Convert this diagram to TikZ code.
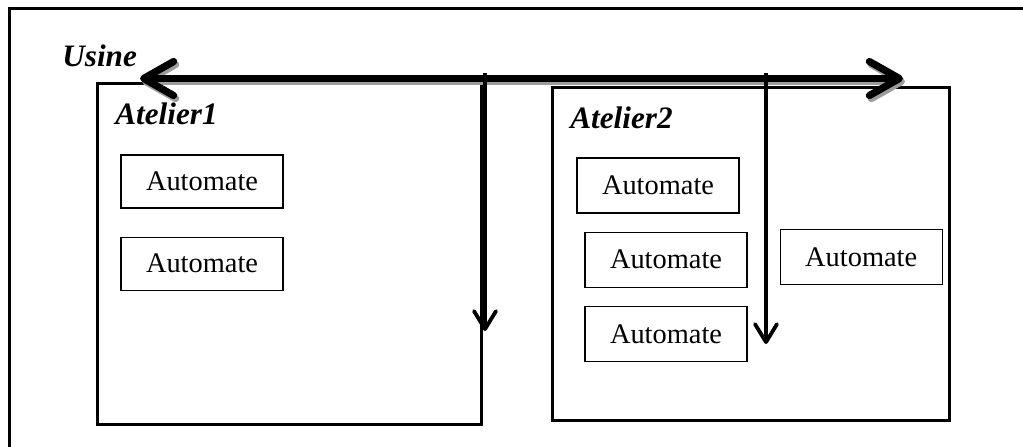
\documentclass[tikz,border=0pt]{standalone}
\usepackage{fontspec}
\setmainfont{Liberation Serif}
\usetikzlibrary{arrows.meta,positioning}
\definecolor{usink}{HTML}{000000}
\definecolor{usshade}{HTML}{9C9C9C}
\tikzset{
  usframe/.style={draw=usink, line width=1.5pt},
  usatelier/.style={draw=usink, line width=1.5pt, fill=white, inner sep=0pt},
  usauto/.style={draw=usink, line width=0.6pt, fill=white, inner sep=0pt,
    minimum width=81pt, minimum height=27.5pt, font=\fontsize{14.2}{17}\selectfont},
  uslabel/.style={inner sep=0pt, anchor=base west,
    font=\fontsize{15.6}{19}\selectfont\bfseries\itshape},
  usbus/.style={{Straight Barb[length=15pt,width=17pt,round]}-{Straight Barb[length=15pt,width=17pt,round]},
    line width=3.6pt, line cap=round, draw=usink},
  usbusshade/.style={usbus, draw=usshade},
  usdrop/.style={-{Straight Barb[length=9pt,width=11pt,round]}, line width=1.9pt, draw=usink}
}
\begin{document}
\begin{tikzpicture}[x=0.5pt, y=-0.5pt, node distance=9pt]
\useasboundingbox (0,0) rectangle (1023,446);
% plant frame, runs off the page right and bottom
\draw[usframe] (9,470) -- (9,8) -- (1050,8);
\node[uslabel] (usine) at (62,66) {Usine};
\node[usatelier, minimum width=192pt, minimum height=170.5pt] (at1) at (289,253.5) {};
\node[usatelier, minimum width=198.5pt, minimum height=166.5pt] (at2) at (750.5,253.5) {};
\node[uslabel] (at1lbl) at (115,124) {Atelier1};
\node[uslabel] (at2lbl) at (570,128) {Atelier2};
\node[usauto, minimum height=26.5pt] (a1m1) at (202,181.5) {Automate};
\node[usauto, minimum height=26.5pt, below=14pt of a1m1] (a1m2) {Automate};
\node[usauto] (a2m1) at (658,185.5) {Automate};
\node[usauto, below=9pt of a2m1, xshift=4pt] (a2m2) {Automate};
\node[usauto, below=9pt of a2m2] (a2m3) {Automate};
\node[usauto, right=16pt of a2m2, yshift=1.25pt] (a2m4) {Automate};
% bus with its grey shadow
\coordinate (busL) at (140,78.5);
\coordinate (busR) at (903,78.5);
\draw[usbusshade] ([shift={(2,3)}]busL) -- ([shift={(2,3)}]busR);
\draw[usbus] (busL) -- (busR);
\coordinate (tap1) at (485,73);
\coordinate (end1) at (485,331);
\coordinate (tap2) at (766,73);
\coordinate (end2) at (766,344);
\draw[usdrop] (tap1) -- (end1);
\draw[usdrop] (tap2) -- (end2);
\end{tikzpicture}
\end{document}
